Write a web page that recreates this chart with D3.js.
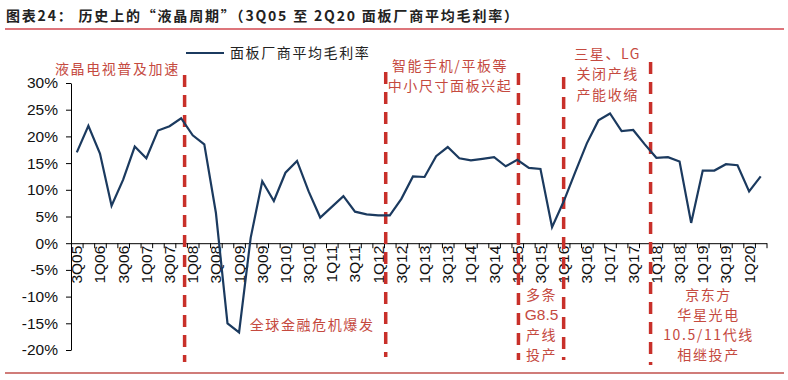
<!DOCTYPE html>
<html><head><meta charset="utf-8">
<script src="https://cdn.jsdelivr.net/npm/d3@7/dist/d3.min.js"></script>
<style>
html,body{margin:0;padding:0;background:#fff;}
svg{display:block;}
</style></head>
<body>
<svg id="chart" width="788" height="380"></svg>
<script>
// ---------- data ----------
const quarters = [
 "3Q05","4Q05",
 "1Q06","2Q06","3Q06","4Q06",
 "1Q07","2Q07","3Q07","4Q07",
 "1Q08","2Q08","3Q08","4Q08",
 "1Q09","2Q09","3Q09","4Q09",
 "1Q10","2Q10","3Q10","4Q10",
 "1Q11","2Q11","3Q11","4Q11",
 "1Q12","2Q12","3Q12","4Q12",
 "1Q13","2Q13","3Q13","4Q13",
 "1Q14","2Q14","3Q14","4Q14",
 "1Q15","2Q15","3Q15","4Q15",
 "1Q16","2Q16","3Q16","4Q16",
 "1Q17","2Q17","3Q17","4Q17",
 "1Q18","2Q18","3Q18","4Q18",
 "1Q19","2Q19","3Q19","4Q19",
 "1Q20","2Q20"];
const grossMargin = [
 17.0,22.0,
 16.8,7.0,11.9,18.1,
 15.9,21.1,21.9,23.4,
 20.2,18.5,5.7,-15.0,
 -16.7,1.0,11.6,7.9,
 13.2,15.4,9.7,4.8,
 6.8,8.8,5.9,5.4,
 5.2,5.2,8.3,12.5,
 12.4,16.3,18.0,15.9,
 15.5,15.8,16.1,14.4,
 15.6,14.1,13.9,3.0,
 7.8,13.3,18.7,23.0,
 24.3,21.0,21.2,18.5,
 16.0,16.1,15.3,3.8,
 13.6,13.6,14.8,14.6,
 9.7,12.5];
const xTickLabels = ["3Q05","1Q06","3Q06","1Q07","3Q07","1Q08","3Q08","1Q09","3Q09","1Q10","3Q10","1Q11","3Q11","1Q12","3Q12","1Q13","3Q13","1Q14","3Q14","1Q15","3Q15","1Q16","3Q16","1Q17","3Q17","1Q18","3Q18","1Q19","3Q19","1Q20"];
const yTicks = [-20,-15,-10,-5,0,5,10,15,20,25,30];
const seriesName = "面板厂商平均毛利率";
const title = "图表24：  历史上的“液晶周期”（3Q05 至 2Q20 面板厂商平均毛利率）";
// event markers: position in quarter-boundary units
const eventPos = [9.8, 27.15, 38.6, 42.5, 50];
const annotations = [
 {lines:["液晶电视普及加速"], at:4.0, row:"top1"},
 {lines:["智能手机/平板等","中小尺寸面板兴起"], at:32.7, row:"top0"},
 {lines:["三星、LG","关闭产线","产能收缩"], at:46.3, row:"topA"},
 {lines:["全球金融危机爆发"], at:20.8, row:"bot0"},
 {lines:["多条","G8.5","产线","投产"], at:40.6, row:"botB"},
 {lines:["京东方","华星光电","10.5/11代线","相继投产"], at:55.0, row:"botB"}
];

// ---------- layout ----------
const W = 788, H = 380;
const plot = {left:71, right:766.5, top:83, bottom:350};
const svg = d3.select("#chart");

const x = d3.scaleLinear().domain([0, quarters.length]).range([plot.left, plot.right]);
const y = d3.scaleLinear().domain([-20, 30]).range([plot.bottom, plot.top]);
const xc = i => x(i + 0.5);

const red = "#c8302a";
const textRed = "#c54a3f";
const navy = "#1b3a5f";
const cjk = "'Noto Sans CJK SC','Noto Sans',sans-serif";
const latin = "'Liberation Sans',Arial,sans-serif";

// title
svg.append("text").attr("x", 6).attr("y", 21)
  .attr("font-family", cjk).attr("font-size", 14).attr("font-weight", 700)
  .attr("fill", "#222").attr("textLength", 512).attr("lengthAdjust", "spacing")
  .text(title);
svg.append("line").attr("x1", 5).attr("x2", 784).attr("y1", 29).attr("y2", 29)
  .attr("stroke", "#d2474f").attr("stroke-width", 1.5);
svg.append("line").attr("x1", 5).attr("x2", 784).attr("y1", 373).attr("y2", 373)
  .attr("stroke", "#c0504d").attr("stroke-width", 1.5);

// y axis
const yAxis = d3.axisLeft(y).tickValues(yTicks).tickFormat(d => d + "%")
  .tickSize(5).tickSizeOuter(0).tickPadding(8);
const gy = svg.append("g").attr("transform", `translate(${plot.left},0)`).call(yAxis);
gy.selectAll("text").attr("font-family", latin).attr("font-size", 15.5).attr("fill", "#111");
gy.selectAll("line,path").attr("stroke", "#000").attr("stroke-width", 1);

// x axis at 0%
const y0 = y(0);
const xTickAxis = d3.axisBottom(x).tickValues(d3.range(0, quarters.length + 1))
  .tickFormat("").tickSize(5).tickSizeOuter(0);
const gx = svg.append("g").attr("transform", `translate(0,${y0})`).call(xTickAxis);
gx.selectAll("line,path").attr("stroke", "#000").attr("stroke-width", 1);

const gl = svg.append("g");
gl.selectAll("text").data(xTickLabels).join("text")
  .attr("transform", d => `translate(${xc(quarters.indexOf(d))},${y0 + 2.5}) rotate(-90)`)
  .attr("text-anchor", "end").attr("dy", "0.35em")
  .attr("font-family", latin).attr("font-size", 15.5).attr("fill", "#111")
  .text(d => d);

// event dashed lines
const eventSpan = [
 {top:75, bottom:362},
 {top:72, bottom:357},
 {top:73, bottom:360},
 {top:77, bottom:360},
 {top:62, bottom:365}
];
svg.append("g").selectAll("line").data(eventPos).join("line")
  .attr("x1", d => x(d)).attr("x2", d => x(d))
  .attr("y1", (d,i) => eventSpan[i].top).attr("y2", (d,i) => eventSpan[i].bottom)
  .attr("stroke", red).attr("stroke-width", 3.5).attr("stroke-dasharray", "12,8");

// series line
const line = d3.line().x((d,i) => xc(i)).y(d => y(d));
svg.append("path").datum(grossMargin).attr("d", line)
  .attr("fill", "none").attr("stroke", navy).attr("stroke-width", 2.2)
  .attr("stroke-linejoin", "miter");

// legend
svg.append("line").attr("x1", 186).attr("x2", 224).attr("y1", 53).attr("y2", 53)
  .attr("stroke", navy).attr("stroke-width", 2.2);
svg.append("text").attr("x", 230).attr("y", 53).attr("dy", "0.36em")
  .attr("font-family", cjk).attr("font-size", 14).attr("letter-spacing", 1.6)
  .attr("fill", "#222").text(seriesName);

// annotations
const rowStart = {top0:66, top1:69, topA:54, bot0:325, botB:294.5};
const ga = svg.append("g");
annotations.forEach(a => {
  a.lines.forEach((t, k) => {
    ga.append("text")
      .attr("x", x(a.at)).attr("y", rowStart[a.row] + k * 20.3).attr("dy", "0.36em")
      .attr("text-anchor", "middle")
      .attr("font-family", /[A-Za-z0-9]/.test(t) && !/[\u4e00-\u9fff]/.test(t) ? latin : cjk)
      .attr("font-size", /^[A-Za-z0-9.\/]+$/.test(t) ? 15.5 : 14)
      .attr("letter-spacing", /^[A-Za-z0-9.\/]+$/.test(t) ? 0 : 1.6)
      .attr("fill", textRed).text(t);
  });
});
</script>
</body></html>
